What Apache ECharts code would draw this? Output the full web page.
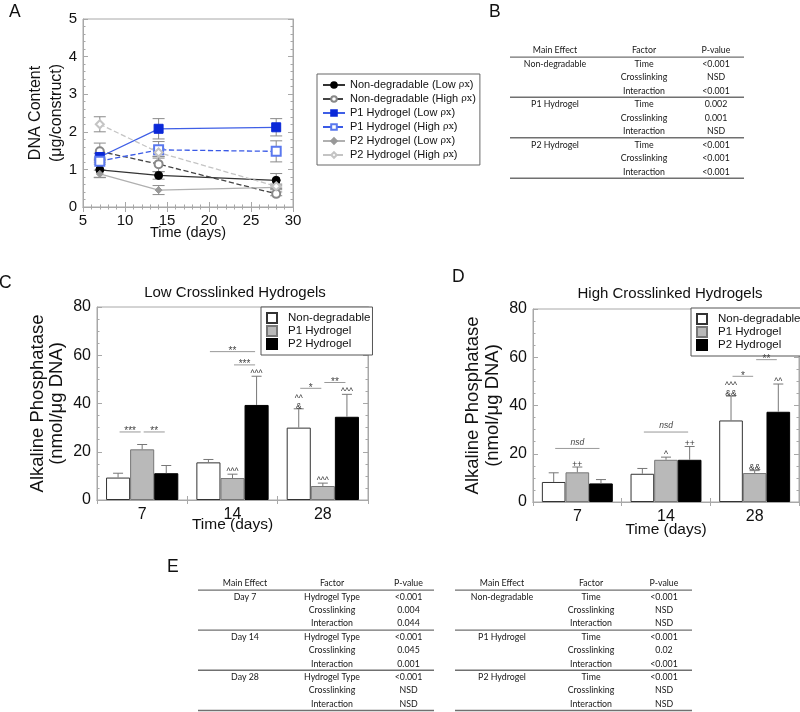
<!DOCTYPE html>
<html><head><meta charset="utf-8">
<script src="https://cdn.jsdelivr.net/npm/echarts@6/dist/echarts.min.js"></script>
<style>html,body{margin:0;padding:0;background:#fff}#c{width:800px;height:712px}</style>
</head><body><div id="c"></div>
<script>
// ---------- Panel A: DNA content ----------
const daysA = [7, 14, 28];
const aNames = ['Non-degradable (Low ρx)', 'Non-degradable (High ρx)', 'P1 Hydrogel (Low ρx)',
                'P1 Hydrogel (High ρx)', 'P2 Hydrogel (Low ρx)', 'P2 Hydrogel (High ρx)'];
const nonDegLow = [0.99, 0.84, 0.71];
const nonDegLowErr = [0.2, 0.1, 0.18];
const nonDegHigh = [1.48, 1.14, 0.35];
const nonDegHighErr = [0.22, 0.2, 0.05];
const p1Low = [1.33, 2.08, 2.12];
const p1LowErr = [0.1, 0.27, 0.23];
const p1High = [1.22, 1.52, 1.48];
const p1HighErr = [0.08, 0.22, 0.28];
const p2Low = [0.88, 0.45, 0.52];
const p2LowErr = [0.1, 0.12, 0.06];
const p2High = [2.2, 1.45, 0.55];
const p2HighErr = [0.2, 0.1, 0.06];

// ---------- Panels C & D: alkaline phosphatase ----------
const catDays = ['7', '14', '28'];
const barNames = ['Non-degradable', 'P1 Hydrogel', 'P2 Hydrogel'];
const lowNonDeg = [9.3, 15.6, 30.0];
const lowNonDegErr = [1.8, 1.2, 7.8];
const lowP1 = [21.0, 9.1, 5.8];
const lowP1Err = [2.0, 1.6, 1.2];
const lowP2 = [11.1, 39.4, 34.5];
const lowP2Err = [3.2, 11.9, 9.3];
const highNonDeg = [8.3, 11.7, 33.8];
const highNonDegErr = [3.8, 2.2, 10.1];
const highP1 = [12.3, 17.5, 12.0];
const highP1Err = [2.2, 1.1, 1.0];
const highP2 = [7.7, 17.5, 37.4];
const highP2Err = [1.6, 5.5, 11.5];
// significance marks: [day index, bar index, text]
const lowMarks = [[1, 1, '^^^'], [1, 2, '^^^'], [2, 0, '^^\n&'], [2, 1, '^^^'], [2, 2, '^^^']];
const highMarks = [[0, 1, '++'], [1, 1, '^'], [1, 2, '++'], [2, 0, '^^^\n&&'], [2, 1, '&&'], [2, 2, '^^']];
// brackets: [day index, from bar, to bar, value level, text]
const lowBrackets = [[0, 0, 1, 28.2, '***'], [0, 1, 2, 28.2, '**'], [1, 0, 2, 61.5, '**'],
                     [1, 1, 2, 56, '***'], [2, 0, 1, 46.3, '*'], [2, 1, 2, 48.7, '**']];
const highBrackets = [[0, 0, 2, 22.2, 'nsd'], [1, 0, 2, 29, 'nsd'], [2, 0, 1, 52.1, '*'], [2, 1, 2, 59, '**']];

// ---------- Tables ----------
const tableHeader = ['Main Effect', 'Factor', 'P-value'];
const tableB = [
  ['Non-degradable', 'Time', '<0.001'], ['', 'Crosslinking', 'NSD'], ['', 'Interaction', '<0.001'],
  ['P1 Hydrogel', 'Time', '0.002'], ['', 'Crosslinking', '0.001'], ['', 'Interaction', 'NSD'],
  ['P2 Hydrogel', 'Time', '<0.001'], ['', 'Crosslinking', '<0.001'], ['', 'Interaction', '<0.001']];
const tableE1 = [
  ['Day 7', 'Hydrogel Type', '<0.001'], ['', 'Crosslinking', '0.004'], ['', 'Interaction', '0.044'],
  ['Day 14', 'Hydrogel Type', '<0.001'], ['', 'Crosslinking', '0.045'], ['', 'Interaction', '0.001'],
  ['Day 28', 'Hydrogel Type', '<0.001'], ['', 'Crosslinking', 'NSD'], ['', 'Interaction', 'NSD']];
const tableE2 = [
  ['Non-degradable', 'Time', '<0.001'], ['', 'Crosslinking', 'NSD'], ['', 'Interaction', 'NSD'],
  ['P1 Hydrogel', 'Time', '<0.001'], ['', 'Crosslinking', '0.02'], ['', 'Interaction', '<0.001'],
  ['P2 Hydrogel', 'Time', '<0.001'], ['', 'Crosslinking', 'NSD'], ['', 'Interaction', 'NSD']];

// ================= build =================
const FONT = 'Liberation Sans';
const FRAME = '#a8a8a8';
const GAP = 0.2;

function valueAxis(gi, pos, min, max, interval, minorSplit, labels, fs, extra) {
  return Object.assign({
    type: 'value', gridIndex: gi, position: pos, min, max, interval,
    nameMoveOverlap: false,
    axisLine: {show: true, lineStyle: {color: FRAME}},
    axisTick: {show: true, inside: true, length: 5, lineStyle: {color: FRAME}},
    minorTick: {show: true, splitNumber: minorSplit, length: 2.5, lineStyle: {color: FRAME}},
    splitLine: {show: false},
    axisLabel: {show: labels, fontSize: fs, color: '#111', fontFamily: FONT, margin: 6}
  }, extra || {});
}
function catAxis(gi, pos, labels, extra) {
  return Object.assign({
    type: 'category', gridIndex: gi, position: pos, data: catDays,
    nameMoveOverlap: false,
    axisLine: {show: true, lineStyle: {color: FRAME}},
    axisTick: {show: true, inside: true, length: 4, lineStyle: {color: FRAME}},
    splitLine: {show: false},
    axisLabel: {show: labels, fontSize: 16, color: '#111', fontFamily: FONT, margin: 7}
  }, extra || {});
}

const xAxis = [
  valueAxis(0, 'bottom', 5, 30, 5, 5, true, 15, {name: 'Time (days)', nameLocation: 'middle', nameGap: 18.5,
    nameTextStyle: {fontSize: 14.5, color: '#111', fontFamily: FONT}}),
  valueAxis(0, 'top', 5, 30, 5, 5, false, 15),
  catAxis(1, 'bottom', true, {name: 'Time (days)', nameLocation: 'middle', nameGap: 17,
    nameTextStyle: {fontSize: 15.5, color: '#111', fontFamily: FONT}}),
  catAxis(1, 'top', false),
  catAxis(2, 'bottom', true, {name: 'Time (days)', nameLocation: 'middle', nameGap: 19.5,
    nameTextStyle: {fontSize: 15.5, color: '#111', fontFamily: FONT}}),
  catAxis(2, 'top', false)
];
const yAxis = [
  valueAxis(0, 'left', 0, 5, 1, 5, true, 15, {name: 'DNA Content\n(μg/construct)', nameLocation: 'middle',
    nameRotate: 90, nameGap: 15.5, nameTextStyle: {fontSize: 16, lineHeight: 21, color: '#111', fontFamily: FONT}}),
  valueAxis(0, 'right', 0, 5, 1, 5, false, 15),
  valueAxis(1, 'left', 0, 80, 20, 4, true, 16, {name: 'Alkaline Phosphatase\n(nmol/μg DNA)', nameLocation: 'middle',
    nameRotate: 90, nameGap: 31, nameTextStyle: {fontSize: 18.5, lineHeight: 18.7, color: '#111', fontFamily: FONT}}),
  valueAxis(1, 'right', 0, 80, 20, 4, false, 16),
  valueAxis(2, 'left', 0, 80, 20, 4, true, 16, {name: 'Alkaline Phosphatase\n(nmol/μg DNA)', nameLocation: 'middle',
    nameRotate: 90, nameGap: 30, nameTextStyle: {fontSize: 18.5, lineHeight: 20, color: '#111', fontFamily: FONT}}),
  valueAxis(2, 'right', 0, 80, 20, 4, false, 16)
];

// ---- Panel A series ----
const aSets = [
  {v: nonDegLow, e: nonDegLowErr, sym: 'circle', size: 8, col: '#000', line: '#333', type: 'solid'},
  {v: nonDegHigh, e: nonDegHighErr, sym: 'emptyCircle', size: 8, col: '#888', line: '#444', type: 'dashed'},
  {v: p1Low, e: p1LowErr, sym: 'rect', size: 9, col: '#0a28d8', line: '#3f5fe6', type: 'solid'},
  {v: p1High, e: p1HighErr, sym: 'emptyRect', size: 9, col: '#5a78ee', line: '#3a5ae6', type: 'dashed'},
  {v: p2Low, e: p2LowErr, sym: 'diamond', size: 7, col: '#999', line: '#b0b0b0', type: 'solid'},
  {v: p2High, e: p2HighErr, sym: 'emptyDiamond', size: 8, col: '#c4c4c4', line: '#c4c4c4', type: 'dashed'}
];
const series = [];
const errA = [];
aSets.forEach(s => daysA.forEach((d, i) => errA.push([d, s.v[i], s.e[i]])));
series.push({
  type: 'custom', xAxisIndex: 0, yAxisIndex: 0, silent: true, z: 1, data: errA,
  renderItem: (p, api) => {
    const x = api.value(0), y = api.value(1), e = api.value(2);
    const t = api.coord([x, y + e]), b = api.coord([x, y - e]);
    const st = {stroke: '#8a8a8a', lineWidth: 1};
    return {type: 'group', children: [
      {type: 'line', shape: {x1: t[0], y1: t[1], x2: b[0], y2: b[1]}, style: st},
      {type: 'line', shape: {x1: t[0] - 6, y1: t[1], x2: t[0] + 6, y2: t[1]}, style: st},
      {type: 'line', shape: {x1: b[0] - 6, y1: b[1], x2: b[0] + 6, y2: b[1]}, style: st}
    ]};
  }
});
aSets.forEach((s, k) => {
  series.push({
    type: 'line', name: aNames[k], xAxisIndex: 0, yAxisIndex: 0, z: 3,
    data: daysA.map((d, i) => [d, s.v[i]]),
    symbol: s.sym, symbolSize: s.size,
    lineStyle: {color: s.line, width: 1.3, type: s.type},
    itemStyle: {color: s.col, borderColor: s.col, borderWidth: 1}
  });
});

// ---- Panels C/D ----
const barStyles = [
  {color: '#ffffff', borderColor: '#333', borderWidth: 1},
  {color: '#b9b9b9', borderColor: '#777', borderWidth: 1},
  {color: '#000000', borderColor: '#000', borderWidth: 1}
];
function barPanel(ai, vals, errs, marks, brackets) {
  vals.forEach((v, b) => series.push({
    type: 'bar', name: barNames[b], xAxisIndex: ai, yAxisIndex: ai, data: v,
    barGap: '0%', barCategoryGap: (GAP * 100) + '%', itemStyle: barStyles[b], z: 2
  }));
  const errData = [];
  vals.forEach((arr, b) => arr.forEach((v, c) => errData.push([c, v, errs[b][c], b])));
  series.push({
    type: 'custom', xAxisIndex: ai, yAxisIndex: ai, silent: true, z: 3, data: errData,
    renderItem: (p, api) => {
      const c = api.value(0), v = api.value(1), e = api.value(2), b = api.value(3);
      const bw = api.size([1, 0])[0] * (1 - GAP) / 3;
      const base = api.coord([c, v]), top = api.coord([c, v + e]);
      const x = base[0] + (b - 1) * bw;
      const st = {stroke: '#777', lineWidth: 1};
      return {type: 'group', children: [
        {type: 'line', shape: {x1: x, y1: base[1], x2: x, y2: top[1]}, style: st},
        {type: 'line', shape: {x1: x - 5, y1: top[1], x2: x + 5, y2: top[1]}, style: st}
      ]};
    }
  });
  series.push({
    type: 'custom', xAxisIndex: ai, yAxisIndex: ai, silent: true, z: 4,
    data: marks.map(m => [m[0], vals[m[1]][m[0]] + errs[m[1]][m[0]], m[1]]),
    renderItem: (p, api) => {
      const c = api.value(0), b = api.value(2);
      const bw = api.size([1, 0])[0] * (1 - GAP) / 3;
      const pt = api.coord([c, api.value(1)]);
      return {type: 'text', x: pt[0] + (b - 1) * bw, y: pt[1] + 1.5,
        style: {text: marks[p.dataIndex][2], fontSize: 8.5, lineHeight: 8, fill: '#333',
          fontFamily: FONT, align: 'center', verticalAlign: 'bottom'}};
    }
  });
  series.push({
    type: 'custom', xAxisIndex: ai, yAxisIndex: ai, silent: true, z: 4,
    data: brackets.map(k => [k[0], k[3]]),
    renderItem: (p, api) => {
      const k = brackets[p.dataIndex];
      const bw = api.size([1, 0])[0] * (1 - GAP) / 3;
      const c = api.coord([api.value(0), api.value(1)]);
      const x1 = c[0] + (k[1] - 1) * bw + 1.5, x2 = c[0] + (k[2] - 1) * bw - 1.5;
      const nsd = k[4] === 'nsd';
      return {type: 'group', children: [
        {type: 'line', shape: {x1, y1: c[1], x2, y2: c[1]}, style: {stroke: '#999', lineWidth: 1}},
        {type: 'text', x: (x1 + x2) / 2, y: c[1] + (nsd ? -1.5 : 4.5),
          style: {text: k[4], fontSize: nsd ? 8.5 : 10, fontStyle: nsd ? 'italic' : 'normal', fill: '#444',
            fontFamily: FONT, align: 'center', verticalAlign: 'bottom'}}
      ]};
    }
  });
}
barPanel(2, [lowNonDeg, lowP1, lowP2], [lowNonDegErr, lowP1Err, lowP2Err], lowMarks, lowBrackets);
barPanel(4, [highNonDeg, highP1, highP2], [highNonDegErr, highP1Err, highP2Err], highMarks, highBrackets);

// ---- graphics: letters, titles, tables ----
const els = [];
function txt(x, y, s, fs, extra) {
  els.push({type: 'text', x, y, style: Object.assign({text: s, fontSize: fs, fontFamily: FONT, fill: '#111',
    align: 'left', verticalAlign: 'top'}, extra || {})});
}
txt(9, 3, 'A', 17.5);
txt(489, 3, 'B', 17.5);
txt(-1, 274, 'C', 17.5);
txt(452, 268, 'D', 17.5);
txt(167, 558, 'E', 17.5);
txt(235, 293, 'Low Crosslinked Hydrogels', 15, {align: 'center', verticalAlign: 'middle'});
txt(670, 293.5, 'High Crosslinked Hydrogels', 15, {align: 'center', verticalAlign: 'middle'});

function table(rows, x0, x1, colX, firstY, step) {
  const tf = {fontFamily: 'Lato', fontSize: 8.8, fill: '#161616', align: 'center', verticalAlign: 'middle'};
  const hl = y => els.push({type: 'line', shape: {x1: x0, y1: y, x2: x1, y2: y},
    style: {stroke: '#707070', lineWidth: 1.4}});
  tableHeader.forEach((h, i) => els.push({type: 'text', x: colX[i], y: firstY - 13.3, style: Object.assign({text: h}, tf)}));
  hl(firstY - 6.6);
  rows.forEach((r, ri) => {
    r.forEach((t, ci) => { if (t) els.push({type: 'text', x: colX[ci], y: firstY + ri * step, style: Object.assign({text: t}, tf)}); });
    if (ri % 3 === 2) hl(firstY + ri * step + 6.6);
  });
}
table(tableB, 510, 744, [555, 644, 716], 63.7, 13.5);
table(tableE1, 198, 434, [245, 332, 408.5], 596.7, 13.4);
table(tableE2, 455, 692, [502, 591, 664], 596.7, 13.4);

const option = {
  animation: false,
  backgroundColor: '#fff',
  textStyle: {fontFamily: FONT, color: '#111'},
  grid: [
    {left: 83, top: 19, width: 210, height: 188, show: true, borderColor: FRAME, borderWidth: 1, backgroundColor: 'transparent'},
    {left: 97, top: 307, width: 271, height: 193, show: true, borderColor: FRAME, borderWidth: 1, backgroundColor: 'transparent'},
    {left: 533, top: 309, width: 266, height: 193, show: true, borderColor: FRAME, borderWidth: 1, backgroundColor: 'transparent'}
  ],
  xAxis, yAxis,
  legend: [
    {data: aNames, orient: 'vertical', left: 317, top: 74, padding: [5, 4, 4, 5], itemGap: 2,
      itemWidth: 22, itemHeight: 7, borderColor: '#666', borderWidth: 1, backgroundColor: '#fff',
      selectedMode: false,
      formatter: n => n.replace('ρx', '{r|ρx}'),
      textStyle: {fontSize: 11, lineHeight: 12, color: '#111', fontFamily: FONT,
        rich: {r: {fontSize: 9.5, fontFamily: 'DejaVu Serif', color: '#111'}}}},
    {data: barNames, orient: 'vertical', left: 261, top: 307, padding: [5, 2, 5, 5], itemGap: 1,
      itemWidth: 10, itemHeight: 10, icon: 'rect', borderColor: '#555', borderWidth: 1, backgroundColor: '#fff',
      selectedMode: false,
      textStyle: {fontSize: 11.5, lineHeight: 10, color: '#111', fontFamily: FONT, padding: [0, 0, 0, 6]}},
    {data: barNames, orient: 'vertical', left: 691, top: 308, padding: [5, 2, 5, 5], itemGap: 1,
      itemWidth: 10, itemHeight: 10, icon: 'rect', borderColor: '#555', borderWidth: 1, backgroundColor: '#fff',
      selectedMode: false,
      textStyle: {fontSize: 11.5, lineHeight: 10, color: '#111', fontFamily: FONT, padding: [0, 0, 0, 6]}}
  ],
  series,
  graphic: {elements: els}
};
const chart = echarts.init(document.getElementById('c'), null, {renderer: 'canvas'});
chart.setOption(option);
</script></body></html>
